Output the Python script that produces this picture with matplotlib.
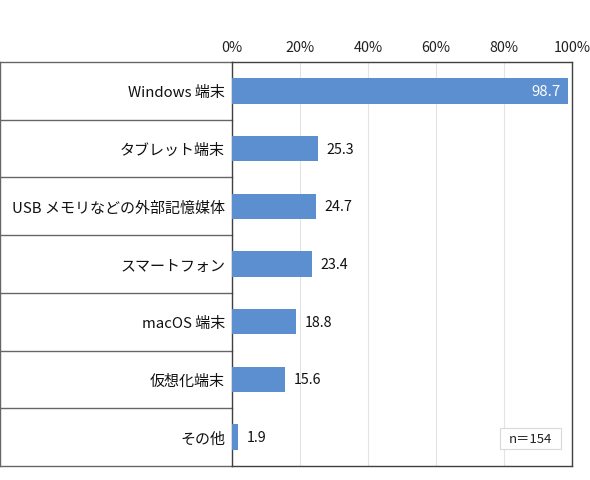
import matplotlib
matplotlib.use("Agg")
import matplotlib.pyplot as plt
from matplotlib.patches import Rectangle

plt.rcParams['font.family'] = ['Noto Sans CJK JP', 'DejaVu Sans']

categories = ["Windows 端末", "タブレット端末", "USB メモリなどの外部記憶媒体",
              "スマートフォン", "macOS 端末", "仮想化端末", "その他"]
values = [98.7, 25.3, 24.7, 23.4, 18.8, 15.6, 1.9]
xticks = [0, 20, 40, 60, 80, 100]
xticklabels = ["0%", "20%", "40%", "60%", "80%", "100%"]
n_label = "n\uff1d154"

W, H = 590, 481
fig = plt.figure(figsize=(W / 100, H / 100), dpi=100, facecolor='white')
x0, x1, y0, y1 = 232, 572, 63, 467
ax = fig.add_axes([x0 / W, 1 - y1 / H, (x1 - x0) / W, (y1 - y0) / H])

n = len(categories)
ypos = list(range(n))
ax.barh(ypos, values, height=0.44, color='#5B8FD0', zorder=3)
ax.set_ylim(n - 0.5, -0.5)
ax.set_xlim(0, 100)

ax.set_xticks(xticks)
ax.set_xticklabels(xticklabels, fontsize=10.3, color='#222222')
ax.xaxis.tick_top()
ax.tick_params(axis='x', length=0, pad=6)
ax.set_yticks(ypos)
ax.set_yticklabels(categories, fontsize=10.8, color='#111111')
ax.tick_params(axis='y', length=0, pad=5)
ax.grid(axis='x', color='#E3E3E3', linewidth=0.8, zorder=0)
ax.set_axisbelow(True)

for s in ax.spines.values():
    s.set_color('#404040')
    s.set_linewidth(1.0)

# value labels
for y, v in zip(ypos, values):
    if v > 90:
        ax.text(v - 2, y, f"{v:.1f}", ha='right', va='center', fontsize=10.8,
                color='white', zorder=4)
    else:
        ax.text(v + 2.5, y, f"{v:.1f}", ha='left', va='center', fontsize=10.3,
                color='#111111', zorder=4)

# label table lines on the left
left = -x0 / (x1 - x0)
tr = ax.get_yaxis_transform()
for k in range(n + 1):
    yy = k - 0.5
    ax.plot([left, 0], [yy, yy], transform=tr, color='#666666', linewidth=1.0,
            clip_on=False, zorder=1)
ax.plot([left, left], [-0.5, n - 0.5], transform=tr, color='#666666',
        linewidth=1.0, clip_on=False)

# n box
bx0, bx1, by0, by1 = 500, 561, 429, 450
fig.patches.append(Rectangle((bx0 / W, 1 - by1 / H), (bx1 - bx0) / W, (by1 - by0) / H,
                             transform=fig.transFigure, facecolor='white',
                             edgecolor='#D9D9D9', linewidth=0.8, zorder=5))
fig.text((bx0 + bx1) / 2 / W, 1 - (by0 + by1) / 2 / H, n_label, ha='center',
         va='center', fontsize=9.5, color='#222222', zorder=6)

fig.savefig("out.png", dpi=100, facecolor='white')
